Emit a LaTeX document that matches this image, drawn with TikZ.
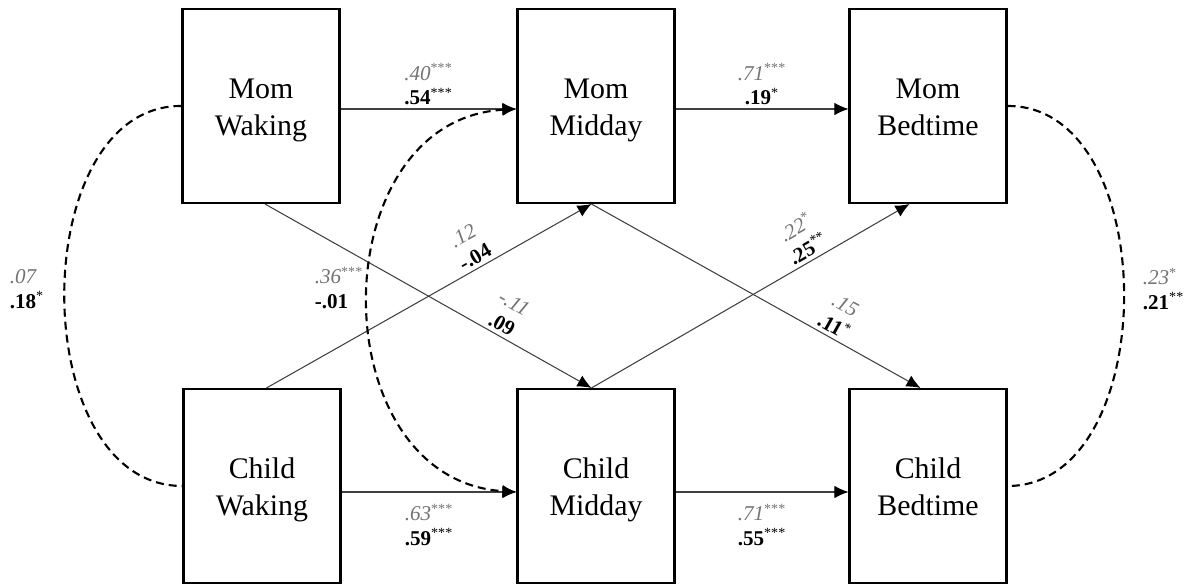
\documentclass[tikz,border=0pt]{standalone}
\usepackage{fontspec}
\setmainfont{Liberation Serif}
\usepackage{xcolor}
\usetikzlibrary{arrows.meta}
\definecolor{coefgray}{gray}{0.45}
\newcommand\coef[4]{{\color{coefgray}\textit{#1}\textsuperscript{#2}}\\\textbf{#3}\textsuperscript{#4}}
\newcommand\twoline[2]{\rule{0pt}{16.2pt}#1\\#2\rule[-3.7pt]{0pt}{3.7pt}}

\begin{document}
\begin{tikzpicture}[x=0.02cm,y=-0.02cm,
        >={Latex[length=2.8mm,width=2.5mm,color=black]},
        measure/.style={draw,line width=1.2pt,minimum width=3.14cm,minimum height=3.88cm,align=center,font=\fontsize{17}{21.6}\selectfont},
        reg/.style={draw=black!75,line width=0.6pt,->},
        cov/.style={line width=1.2pt,dash pattern=on 0.16cm off 0.1cm},
        coefs/.style={align=center,font=\fontsize{12}{14}\selectfont,inner sep=2pt},
        lab/.style={coefs,sloped,above}]
        \useasboundingbox (0,0) rectangle (1198,587);
        \node[measure] (mw) at (261,106) {\twoline{Mom}{Waking}};
        \node[measure] (mm) at (596,106) {\twoline{Mom}{Midday}};
        \node[measure] (mb) at (928,106) {\twoline{Mom}{Bedtime}};
        \node[measure] (cw) at (262,486) {\twoline{Child}{Waking}};
        \node[measure] (cm) at (596,486) {\twoline{Child}{Midday}};
        \node[measure] (cb) at (928,486) {\twoline{Child}{Bedtime}};
        \draw[reg] ([yshift=-0.06cm]mw.east) -- node[coefs,above] (c1) {\coef{.40}{***}{.54}{***}} ([yshift=-0.06cm]mm.west);
        \draw[reg] ([yshift=-0.06cm]mm.east) -- node[coefs,above] (c2) {\coef{.71}{***}{.19}{*}} ([yshift=-0.06cm]mb.west);
        \draw[reg] ([yshift=-0.12cm]cw.east) -- node[coefs,below=4.5pt] (c3) {\coef{.63}{***}{.59}{***}} ([yshift=-0.12cm]cm.west);
        \draw[reg] ([yshift=-0.12cm]cm.east) -- node[coefs,below=4.5pt] (c4) {\coef{.71}{***}{.55}{***}} ([yshift=-0.12cm]cb.west);
        \draw[reg] ([xshift=0.09cm]cw.north) -- node[lab,pos=0.66] (c5) {\coef{.12}{}{-.04}{}} ([xshift=-0.09cm]mm.south);
        \draw[reg] ([xshift=0.08cm]mw.south) -- node[lab,pos=0.71] (c6) {\coef{-.11}{}{.09}{}} ([xshift=-0.09cm]cm.north);
        \draw[reg] ([xshift=-0.09cm]cm.north) -- node[lab,pos=0.7] (c7) {\coef{.22}{*}{.25}{**}} ([xshift=-0.37cm]mb.south);
        \draw[reg] ([xshift=-0.09cm]mm.south) -- node[lab,pos=0.72] (c8) {\coef{.15}{}{.11}{*}} ([xshift=-0.15cm]cb.north);
        \draw[cov] (mw.west) .. controls (25,105) and (25,486) .. (cw.west);
        \draw[cov,<->] ([yshift=-0.06cm]mm.west) .. controls (320,120) and (320,480) .. ([yshift=-0.12cm]cm.west);
        \draw[cov] (mb.east) .. controls (1163,105) and (1163,486) .. (cb.east);
        \node[coefs,align=left,anchor=west] (c9) at (6,289) {\coef{.07}{}{.18}{*}};
        \node[coefs,align=left,anchor=west] (c10) at (311,288) {\coef{.36}{***}{-.01}{}};
        \node[coefs,align=left,anchor=west] (c11) at (1139,289) {\coef{.23}{*}{.21}{**}};
\end{tikzpicture}
\end{document}
